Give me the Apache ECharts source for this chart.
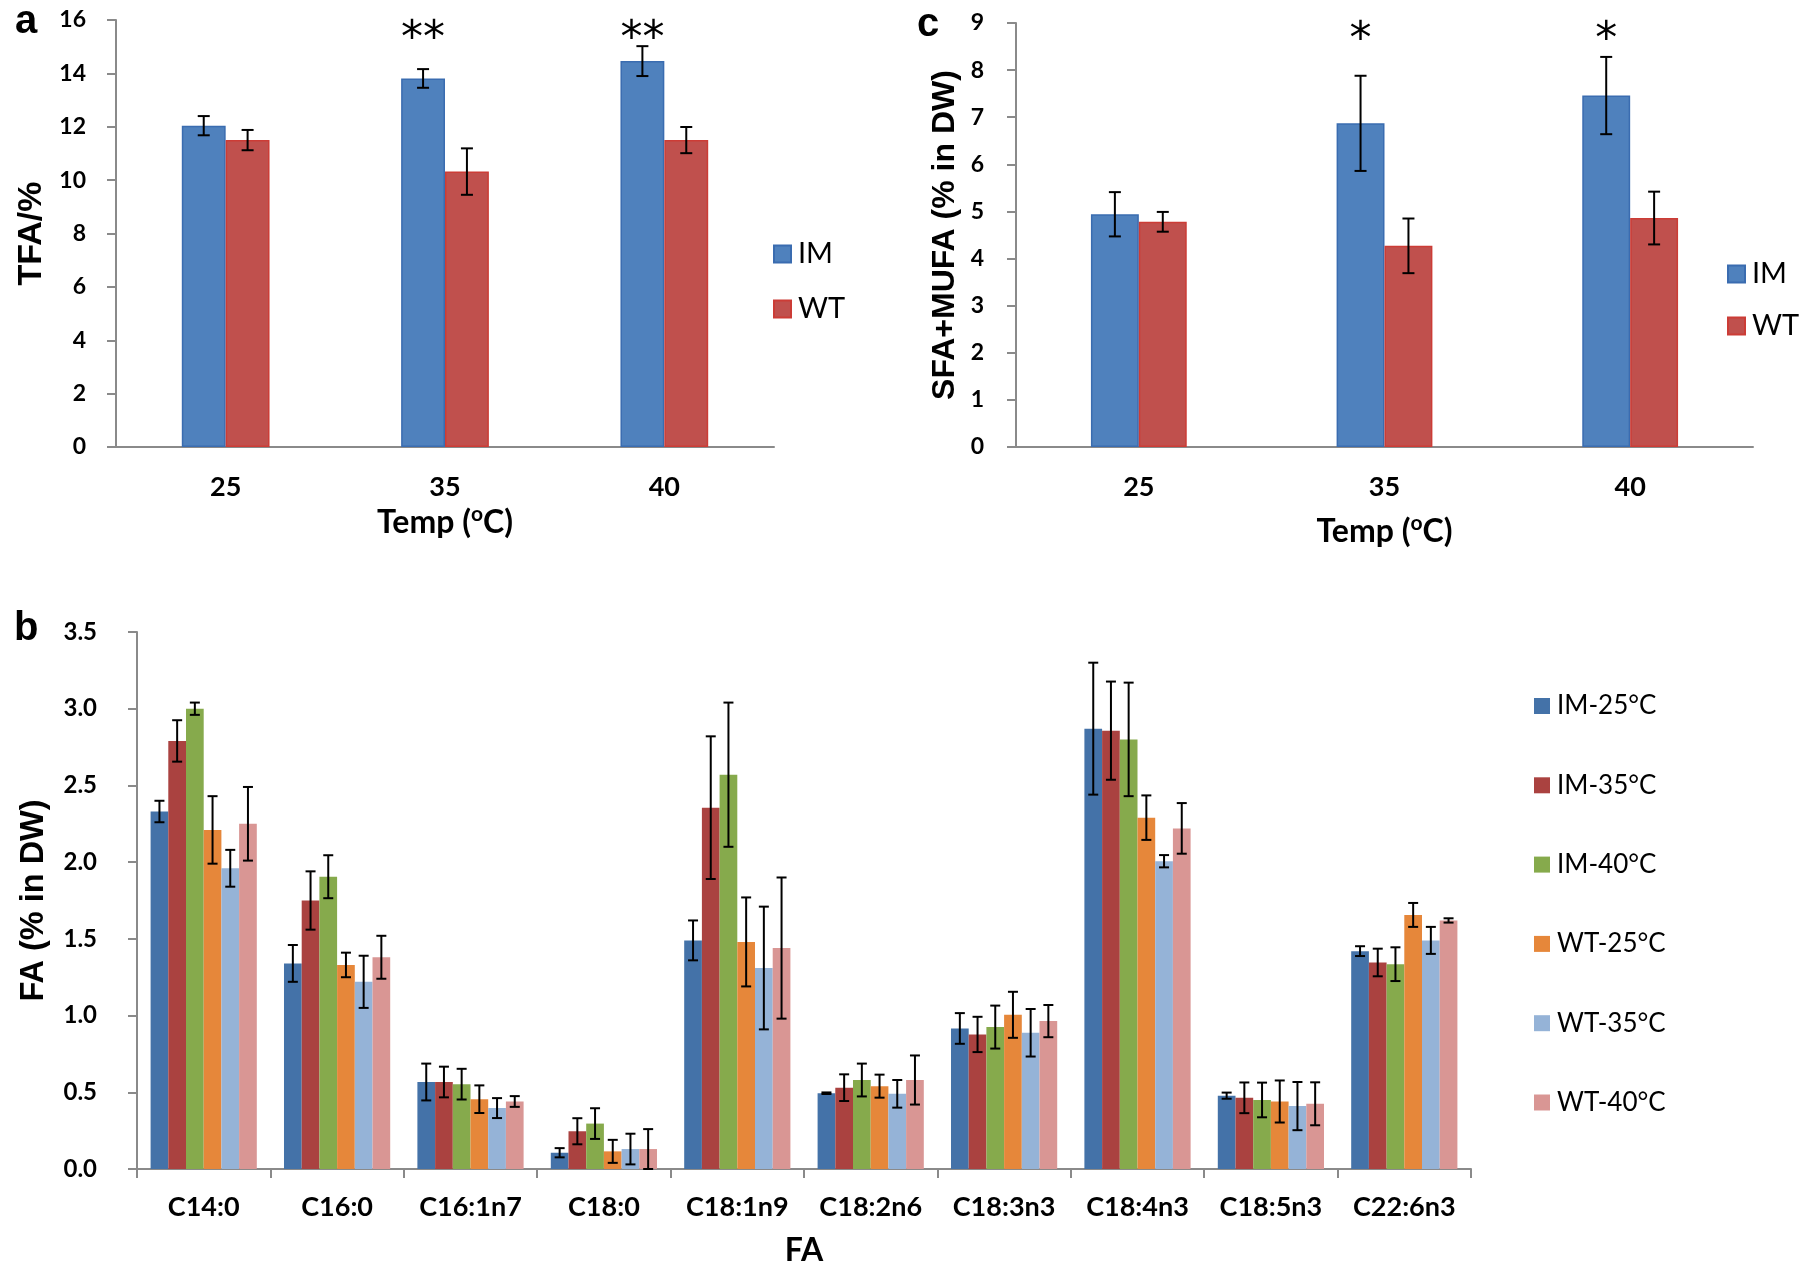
<!DOCTYPE html>
<html>
<head>
<meta charset="utf-8">
<script src="https://cdn.jsdelivr.net/npm/echarts@6/dist/echarts.min.js"></script>
<style>
html,body{margin:0;padding:0;background:#fff;}
#chart{width:1807px;height:1270px;}
</style>
</head>
<body>
<div id="chart"></div>
<script>
// ---------- DATA ----------
const tempCats = ['25', '35', '40'];
const tfaIM = [12.04, 13.81, 14.46];
const tfaIMErr = [0.36, 0.35, 0.56];
const tfaWT = [11.50, 10.32, 11.50];
const tfaWTErr = [0.38, 0.87, 0.49];
const sigA = ['', '**', '**'];

const sfaIM = [4.94, 6.87, 7.46];
const sfaIMErr = [0.47, 1.01, 0.82];
const sfaWT = [4.78, 4.27, 4.86];
const sfaWTErr = [0.21, 0.58, 0.56];
const sigC = ['', '*', '*'];

const faCats = ['C14:0', 'C16:0', 'C16:1n7', 'C18:0', 'C18:1n9', 'C18:2n6', 'C18:3n3', 'C18:4n3', 'C18:5n3', 'C22:6n3'];
const faNames = ['IM-25°C', 'IM-35°C', 'IM-40°C', 'WT-25°C', 'WT-35°C', 'WT-40°C'];
const faIM25 = [2.33, 1.34, 0.567, 0.106, 1.49, 0.494, 0.916, 2.87, 0.478, 1.42];
const faIM25Err = [0.07, 0.12, 0.12, 0.03, 0.13, 0.005, 0.10, 0.43, 0.02, 0.032];
const faIM35 = [2.79, 1.75, 0.567, 0.246, 2.355, 0.53, 0.877, 2.857, 0.464, 1.346];
const faIM35Err = [0.135, 0.19, 0.10, 0.085, 0.465, 0.087, 0.115, 0.32, 0.10, 0.09];
const faIM40 = [3.00, 1.905, 0.553, 0.296, 2.57, 0.58, 0.925, 2.80, 0.45, 1.335];
const faIM40Err = [0.04, 0.14, 0.10, 0.10, 0.47, 0.107, 0.14, 0.37, 0.113, 0.11];
const faWT25 = [2.21, 1.33, 0.455, 0.115, 1.48, 0.54, 1.005, 2.29, 0.44, 1.656];
const faWT25Err = [0.22, 0.08, 0.09, 0.075, 0.29, 0.075, 0.15, 0.145, 0.137, 0.078];
const faWT35 = [1.96, 1.22, 0.397, 0.13, 1.31, 0.49, 0.888, 2.006, 0.41, 1.49];
const faWT35Err = [0.12, 0.17, 0.065, 0.10, 0.40, 0.09, 0.155, 0.04, 0.157, 0.088];
const faWT40 = [2.25, 1.38, 0.44, 0.13, 1.44, 0.58, 0.964, 2.22, 0.425, 1.62];
const faWT40Err = [0.24, 0.14, 0.035, 0.13, 0.46, 0.16, 0.105, 0.165, 0.14, 0.014];

const ticksA = {min: 0, max: 16, interval: 2};
const ticksC = {min: 0, max: 9, interval: 1};
const ticksB = {min: 0, max: 3.5, interval: 0.5};

// ---------- STYLE ----------
const IM_COLOR = '#4F81BD', WT_COLOR = '#C0504D';
const faColors = ['#4472A8', '#AA4240', '#86AA4C', '#E6873A', '#95B3D7', '#D99694'];
const AXIS_GRAY = '#8a8a8a';
const CAL = 'Lato, "Open Sans", sans-serif';
const ARI = '"Liberation Sans", Arial, sans-serif';
const STAR = '"DejaVu Sans", sans-serif';

function makeErr(nBars, idx, frac, capHalf) {
  return function (params, api) {
    const c = api.value(0), v = api.value(1), e = api.value(2);
    const catW = api.size([1, 0])[0];
    const off = (idx - (nBars - 1) / 2) * catW * frac;
    const p1 = api.coord([c, v + e]);
    const p2 = api.coord([c, v - e]);
    const x = p1[0] + off;
    const st = {stroke: '#000', lineWidth: 2};
    return {type: 'group', children: [
      {type: 'line', shape: {x1: x, y1: p1[1], x2: x, y2: p2[1]}, style: st},
      {type: 'line', shape: {x1: x - capHalf, y1: p1[1], x2: x + capHalf, y2: p1[1]}, style: st},
      {type: 'line', shape: {x1: x - capHalf, y1: p2[1], x2: x + capHalf, y2: p2[1]}, style: st}
    ]};
  };
}
function makeSig(marks, yTop, nBars, idx, frac, dy, fs) {
  return function (params, api) {
    const c = api.value(0);
    const catW = api.size([1, 0])[0];
    const off = (idx - (nBars - 1) / 2) * catW * frac;
    const p = api.coord([c, yTop]);
    return {type: 'text', x: p[0] + off, y: p[1] + dy,
      style: {text: marks[c], fontSize: fs, fontFamily: STAR, fill: '#000', align: 'center', verticalAlign: 'middle'}};
  };
}
function errData(vals, errs) { return vals.map((v, i) => [i, v, errs[i]]); }
function sigData(marks) { return marks.map((m, i) => [i]).filter(d => marks[d[0]] !== ''); }

function yAxisCfg(gi, ticks, name, gap, margin, fs, nameFs, fmt) {
  return {
    type: 'value', gridIndex: gi, min: ticks.min, max: ticks.max, interval: ticks.interval,
    name: name, nameLocation: 'middle', nameGap: gap,
    nameTextStyle: {fontFamily: ARI, fontWeight: 'bold', fontSize: nameFs, color: '#000'},
    axisLine: {show: true, lineStyle: {color: AXIS_GRAY, width: 2}},
    axisTick: {show: true, length: 9, lineStyle: {color: AXIS_GRAY, width: 2}},
    splitLine: {show: false},
    axisLabel: {fontFamily: CAL, fontWeight: 'bold', fontSize: fs, color: '#000', margin: margin, formatter: fmt}
  };
}
function xAxisCfg(gi, cats, name, gap, showTick, rich) {
  return {
    type: 'category', gridIndex: gi, data: cats,
    name: name, nameLocation: 'middle', nameGap: gap,
    nameTextStyle: {fontFamily: CAL, fontWeight: 'bold', fontSize: 32, color: '#000',
      rich: rich ? {sup: {fontFamily: CAL, fontWeight: 'bold', fontSize: 21, color: '#000', padding: [0, 0, 17, 0]}} : undefined},
    axisLine: {show: true, lineStyle: {color: AXIS_GRAY, width: 2}},
    axisTick: {show: showTick, interval: 0, alignWithLabel: false, length: 9, lineStyle: {color: AXIS_GRAY, width: 2}},
    axisLabel: {interval: 0, fontFamily: CAL, fontWeight: 'bold', fontSize: 27, color: '#000', margin: showTick ? 25 : 27}
  };
}

const series = [];
// Panel a
series.push({name: 'IM', type: 'bar', xAxisIndex: 0, yAxisIndex: 0, data: tfaIM, barWidth: '20%', barGap: '0%',
  itemStyle: {color: IM_COLOR, borderColor: '#3A6CB0', borderWidth: 1.5}});
series.push({name: 'WT', type: 'bar', xAxisIndex: 0, yAxisIndex: 0, data: tfaWT, barWidth: '20%', barGap: '0%',
  itemStyle: {color: WT_COLOR, borderColor: '#CC3C36', borderWidth: 1.5}});
series.push({name: 'errA-IM', type: 'custom', xAxisIndex: 0, yAxisIndex: 0, z: 5, renderItem: makeErr(2, 0, 0.20, 6), data: errData(tfaIM, tfaIMErr)});
series.push({name: 'errA-WT', type: 'custom', xAxisIndex: 0, yAxisIndex: 0, z: 5, renderItem: makeErr(2, 1, 0.20, 6), data: errData(tfaWT, tfaWTErr)});
series.push({name: 'sigA', type: 'custom', xAxisIndex: 0, yAxisIndex: 0, z: 5, renderItem: makeSig(sigA, ticksA.max, 2, 0, 0.20, 21, 44), data: sigData(sigA)});
// Panel c
series.push({name: 'IM', type: 'bar', xAxisIndex: 1, yAxisIndex: 1, data: sfaIM, barWidth: '19.5%', barGap: '0%',
  itemStyle: {color: IM_COLOR, borderColor: '#3A6CB0', borderWidth: 1.5}});
series.push({name: 'WT', type: 'bar', xAxisIndex: 1, yAxisIndex: 1, data: sfaWT, barWidth: '19.5%', barGap: '0%',
  itemStyle: {color: WT_COLOR, borderColor: '#CC3C36', borderWidth: 1.5}});
series.push({name: 'errC-IM', type: 'custom', xAxisIndex: 1, yAxisIndex: 1, z: 5, renderItem: makeErr(2, 0, 0.195, 6), data: errData(sfaIM, sfaIMErr)});
series.push({name: 'errC-WT', type: 'custom', xAxisIndex: 1, yAxisIndex: 1, z: 5, renderItem: makeErr(2, 1, 0.195, 6), data: errData(sfaWT, sfaWTErr)});
series.push({name: 'sigC', type: 'custom', xAxisIndex: 1, yAxisIndex: 1, z: 5, renderItem: makeSig(sigC, ticksC.max, 2, 0, 0.195, 19, 44), data: sigData(sigC)});
// Panel b
const faVals = [faIM25, faIM35, faIM40, faWT25, faWT35, faWT40];
const faErrs = [faIM25Err, faIM35Err, faIM40Err, faWT25Err, faWT35Err, faWT40Err];
faVals.forEach((vals, k) => {
  series.push({name: faNames[k], type: 'bar', xAxisIndex: 2, yAxisIndex: 2, data: vals, barWidth: '13.27%', barGap: '0%',
    itemStyle: {color: faColors[k]}});
});
faVals.forEach((vals, k) => {
  series.push({name: 'errB-' + k, type: 'custom', xAxisIndex: 2, yAxisIndex: 2, z: 5,
    renderItem: makeErr(6, k, 0.1327, 5), data: errData(vals, faErrs[k])});
});

const legendText = (fs) => ({fontFamily: CAL, fontSize: fs, color: '#000', lineHeight: 30, padding: [0, 0, 0, 2]});

const option = {
  animation: false,
  backgroundColor: '#fff',
  title: [
    {text: 'a', left: 10, top: -3, textStyle: {fontFamily: ARI, fontWeight: 'bold', fontSize: 40, color: '#000'}},
    {text: 'c', left: 912, top: 0, textStyle: {fontFamily: ARI, fontWeight: 'bold', fontSize: 40, color: '#000'}},
    {text: 'b', left: 9, top: 604, textStyle: {fontFamily: ARI, fontWeight: 'bold', fontSize: 40, color: '#000'}}
  ],
  grid: [
    {left: 116, top: 20, width: 658, height: 427},
    {left: 1016, top: 23, width: 737, height: 424},
    {left: 137, top: 632, width: 1334, height: 537}
  ],
  legend: [
    {data: ['IM', 'WT'], orient: 'vertical', left: 773, top: 239, itemWidth: 17, itemHeight: 17, itemGap: 25,
      padding: 0, icon: 'rect', selectedMode: false, textStyle: legendText(29)},
    {data: ['IM', 'WT'], orient: 'vertical', left: 1727, top: 259, itemWidth: 17, itemHeight: 17, itemGap: 22,
      padding: 0, icon: 'rect', selectedMode: false, textStyle: legendText(29)},
    {data: faNames, orient: 'vertical', left: 1534, top: 691, itemWidth: 16, itemHeight: 16, itemGap: 49.3,
      padding: 0, icon: 'rect', selectedMode: false, textStyle: legendText(26)}
  ],
  xAxis: [
    xAxisCfg(0, tempCats, 'Temp ({sup|o}C)', 57, false, true),
    xAxisCfg(1, tempCats, 'Temp ({sup|o}C)', 66, false, true),
    xAxisCfg(2, faCats, 'FA', 66, true, false)
  ],
  yAxis: [
    yAxisCfg(0, ticksA, 'TFA/%', 67, 30, 23, 34),
    yAxisCfg(1, ticksC, 'SFA+MUFA (% in DW)', 55, 32, 23, 32),
    yAxisCfg(2, ticksB, 'FA (% in DW)', 86, 40, 24, 32.5, v => v.toFixed(1))
  ],
  series: series
};

const chart = echarts.init(document.getElementById('chart'), null, {renderer: 'canvas'});
chart.setOption(option);
</script>
</body>
</html>
